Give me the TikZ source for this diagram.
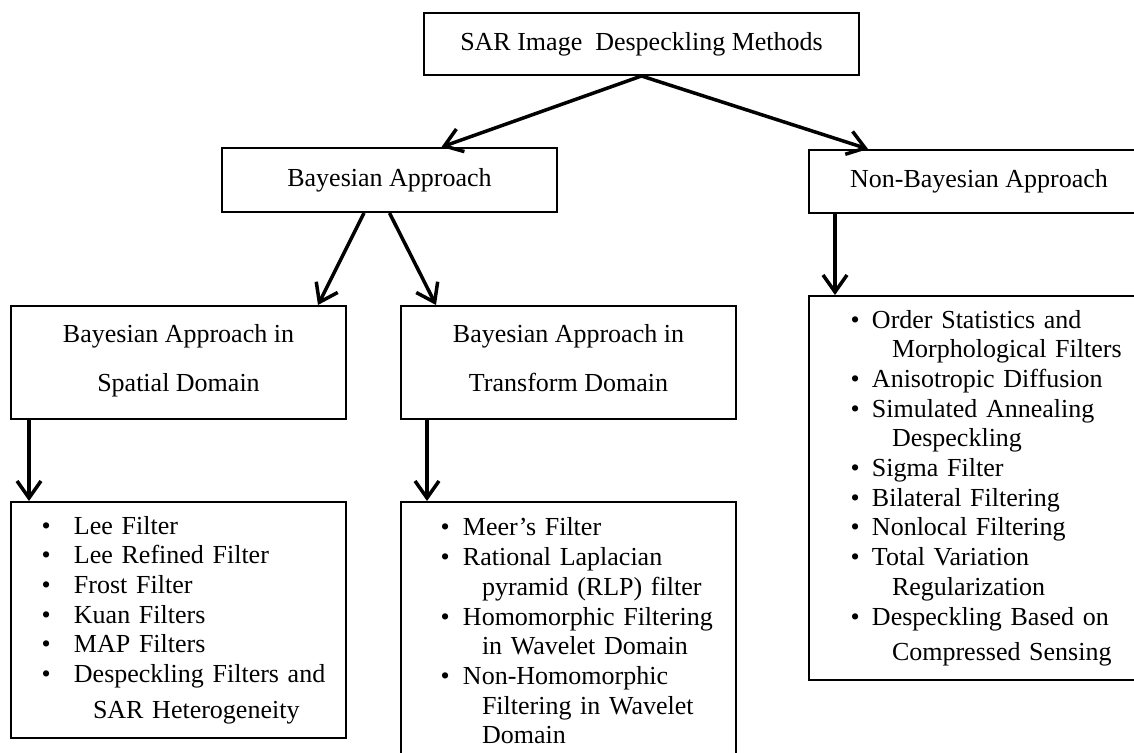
\documentclass[tikz,border=0pt]{standalone}
\usepackage{fontspec}
\setmainfont{Liberation Serif}
\usepackage{tikz}
\usetikzlibrary{arrows.meta, positioning}

\newcommand{\lfont}{\fontsize{26pt}{29.7pt}\selectfont}
\newlength{\lpad}\newlength{\lgap}\newlength{\lind}
\newcommand{\setlist}[3]{\setlength{\lpad}{#1}\setlength{\lgap}{#2}\setlength{\lind}{#3}}
\newcommand{\bitem}[1]{\hspace*{\lpad}\makebox[\lgap][l]{\textbullet}#1}
\newcommand{\bcont}[1]{\hspace*{\lind}#1}

\begin{document}
\begin{tikzpicture}[x=1pt, y=-1pt, >={Straight Barb[length=17pt, width=24pt]},
        block/.style={rectangle, draw, line width=2pt, align=center, inner sep=0pt, font=\lfont},
        listbox/.style={rectangle, draw, line width=2pt, align=left, inner sep=0pt, font=\lfont},
        link/.style={->, line width=3.5pt}]
        \useasboundingbox (0,0) rectangle (1134,752);
        \clip (0,0) rectangle (1134,752);

        \node (sar) [block, minimum width=435pt, minimum height=62pt] at (641.5,44) {SAR Image\ \ Despeckling Methods};
        \node (bay) [block, minimum width=335pt, minimum height=64pt] at (389.5,180) {Bayesian Approach};
        \node (nonbay) [block, minimum width=340pt, minimum height=63pt] at (979,181.5) {Non-Bayesian Approach};
        \node (spat) [block, minimum width=335pt, minimum height=113pt] at (178.5,362.5) {Bayesian Approach in\\[19pt]Spatial Domain\strut};
        \node (trans) [block, minimum width=335pt, minimum height=113pt, right=53pt of spat] {Bayesian Approach in\\[19pt]Transform Domain\strut};

        \node (spatlist) [listbox, text width=335pt, minimum height=236pt, below=81pt of spat] {\setlist{30.5pt}{32.5pt}{82pt}%
            \bitem{Lee Filter}\\
            \bitem{Lee Refined Filter}\\
            \bitem{Frost Filter}\\
            \bitem{Kuan Filters}\\
            \bitem{MAP Filters}\\
            \bitem{Despeckling Filters and}\\[6pt]
            \bcont{SAR Heterogeneity}};
        \node (translist) [listbox, text width=335pt, minimum height=258pt, below=81pt of trans] {\setlist{39.5pt}{22.5pt}{81pt}%
            \bitem{Meer’s Filter}\\
            \bitem{Rational Laplacian}\\
            \bcont{pyramid (RLP) filter}\\
            \bitem{Homomorphic Filtering}\\
            \bcont{in Wavelet Domain}\\
            \bitem{Non-Homomorphic}\\
            \bcont{Filtering in Wavelet}\\
            \bcont{Domain}};
        \node (nblist) [listbox, text width=351pt, minimum height=384pt, below=81pt of nonbay.south west, anchor=north west] {\setlist{41.5pt}{21.5pt}{83pt}%
            \bitem{Order Statistics and}\\
            \bcont{Morphological Filters}\\
            \bitem{Anisotropic Diffusion}\\
            \bitem{Simulated Annealing}\\
            \bcont{Despeckling}\\
            \bitem{Sigma Filter}\\
            \bitem{Bilateral Filtering}\\
            \bitem{Nonlocal Filtering}\\
            \bitem{Total Variation}\\
            \bcont{Regularization}\\
            \bitem{Despeckling Based on}\\[5.6pt]
            \bcont{Compressed Sensing}};

        \draw[link] (sar.south) -- ([xshift=52pt]bay.north);
        \draw[link] (sar.south) -- ([xshift=60pt]nonbay.north west);
        \draw[link] ([xshift=-25.5pt]bay.south) -- ([xshift=-29pt]spat.north east);
        \draw[link] (bay.south) -- ([xshift=36pt]trans.north west);
        \draw[link] ([xshift=19pt]spat.south west) -- ([xshift=19pt]spatlist.north west);
        \draw[link] ([xshift=27pt]trans.south west) -- ([xshift=27pt]translist.north west);
        \draw[link] ([xshift=27pt]nonbay.south west) -- ([xshift=27pt]nblist.north west);
\end{tikzpicture}
\end{document}
